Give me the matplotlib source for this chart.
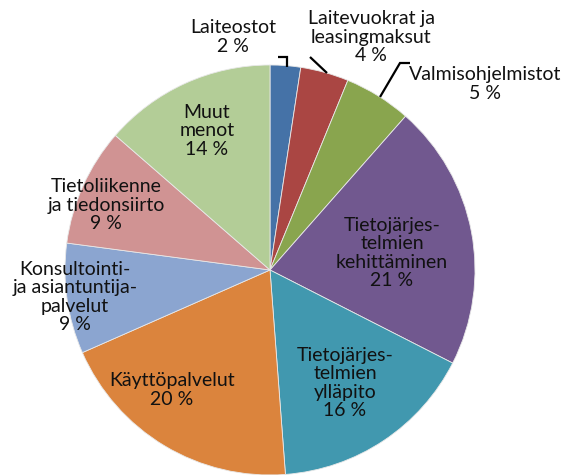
import matplotlib.pyplot as plt

# slices, clockwise from 12 o'clock
labels = ["Laiteostot", "Laitevuokrat ja\nleasingmaksut", "Valmisohjelmistot",
          "Tietojärjes-\ntelmien\nkehittäminen", "Tietojärjes-\ntelmien\nylläpito",
          "Käyttöpalvelut", "Konsultointi-\nja asiantuntija-\npalvelut",
          "Tietoliikenne\nja tiedonsiirto", "Muut\nmenot"]
shares = [2.4, 3.8, 5.3, 21.0, 16.3, 19.6, 8.7, 9.3, 13.6]
pct_text = ["2 %", "4 %", "5 %", "21 %", "16 %", "20 %", "9 %", "9 %", "14 %"]

colors = ["#4572A7", "#AA4643", "#89A54E", "#71588F", "#4198AF",
          "#DB843D", "#8BA5D0", "#D09393", "#B3CD97"]

W, H = 567, 475
fig = plt.figure(figsize=(W / 100, H / 100), dpi=100)
ax = fig.add_axes([0, 0, 1, 1])

cx, cy, r = 270, H - 270, 205
ax.pie(shares, colors=colors, startangle=90, counterclock=False,
       center=(cx, cy), radius=r, frame=True,
       wedgeprops=dict(edgecolor="#e8e8e8", linewidth=0.6))
ax.set_xlim(0, W)
ax.set_ylim(0, H)
ax.axis("off")

# label block centres in image pixels
pos = [(233, 37), (371, 37), (485, 84), (392, 253), (345, 383),
       (172, 390), (75, 297), (106, 205), (207, 131)]
for lab, p, (x, y) in zip(labels, pct_text, pos):
    ax.text(x, H - y, lab + "\n" + p, ha="center", va="center",
            multialignment="center", fontsize=14, family="Lato",
            linespacing=1.08, color="#111111")

# leader lines
def img_line(xs, ys):
    ax.plot(xs, [H - v for v in ys], color="black", lw=1.6,
            solid_capstyle="butt", solid_joinstyle="miter")

img_line([278, 287, 287], [57, 57, 67])
img_line([310, 327], [57, 73])
img_line([380, 400, 410], [97, 63, 63])

fig.savefig("out.png", dpi=100)
